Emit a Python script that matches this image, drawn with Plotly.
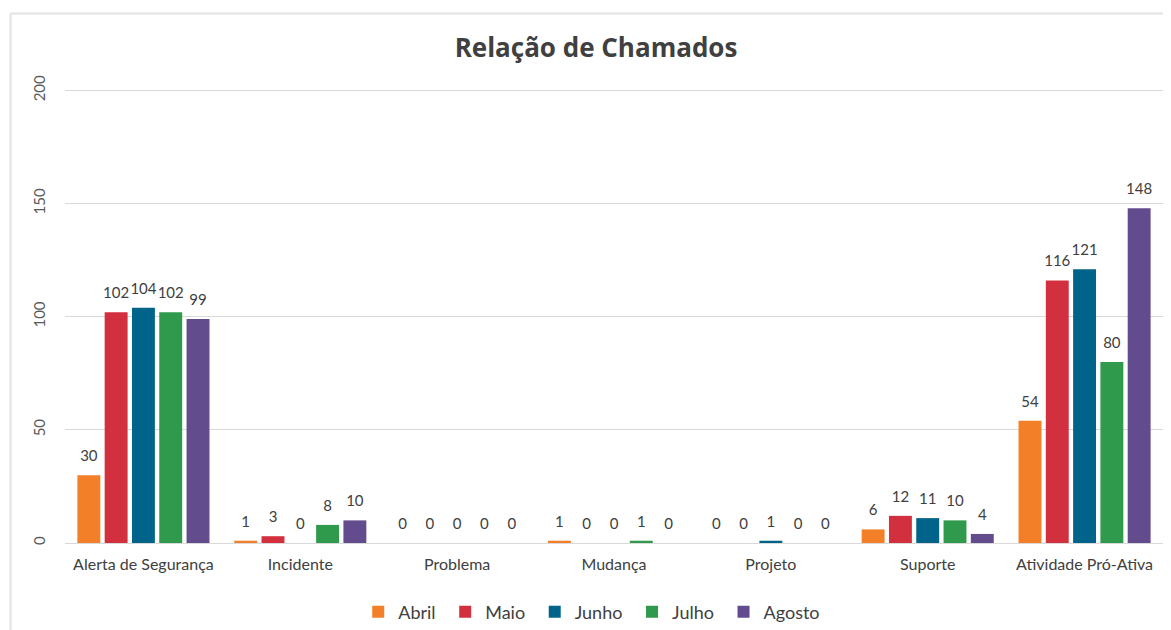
import plotly.graph_objects as go

categories = ["Alerta de Segurança", "Incidente", "Problema", "Mudança", "Projeto", "Suporte", "Atividade Pró-Ativa"]
months = ["Abril", "Maio", "Junho", "Julho", "Agosto"]
abril = [30, 1, 0, 1, 0, 6, 54]
maio = [102, 3, 0, 0, 0, 12, 116]
junho = [104, 0, 0, 0, 1, 11, 121]
julho = [102, 8, 0, 1, 0, 10, 80]
agosto = [99, 10, 0, 0, 0, 4, 148]
series = [abril, maio, junho, julho, agosto]
colors = ["#F37F28", "#D3303F", "#00648A", "#2F9A4C", "#634C8E"]

# figure is rendered with an 8px page margin, so lay out in figure pixels
W, H = 1163, 622
PL, PR = 56.5, 1155.5          # plot left / right (figure px)
PB = 535                         # y = 0
PX_PER_UNIT = 2.26
YMAX = 202
PT = PB - YMAX * PX_PER_UNIT     # plot top
plot_w, plot_h = PR - PL, PB - PT

fig = go.Figure()
for name, vals, col in zip(months, series, colors):
    fig.add_trace(go.Bar(
        x=categories, y=vals, name=name + "\u00a0", offsetgroup=name, alignmentgroup="a",
        marker=dict(color=col, line=dict(width=0)),
    ))
for name, vals, col in zip(months, series, colors):
    fig.add_trace(go.Scatter(
        x=categories, y=vals, name=name, offsetgroup=name, alignmentgroup="a",
        orientation="v", mode="markers+text", text=[str(v) for v in vals],
        textposition="top center", marker=dict(size=15, color="rgba(0,0,0,0)"),
        textfont=dict(size=15, color="#404040", family="Lato"),
        showlegend=False, cliponaxis=False, hoverinfo="skip",
    ))

fig.update_layout(
    width=W, height=H,
    paper_bgcolor="white", plot_bgcolor="white",
    font=dict(family="Lato", color="#404040"),
    title=dict(text="<b>Relação de Chamados</b>", x=588 / W, xanchor="center", y=1 - 40 / H, yanchor="middle",
               font=dict(size=26, color="#404040", family="Open Sans")),
    barmode="group", bargap=0.13, bargroupgap=0.16,
    scattermode="group", scattergap=0.13,
    margin=dict(l=PL, r=W - PR, t=PT, b=H - PB, autoexpand=False),
    showlegend=True,
    legend=dict(orientation="h", x=(350 - PL) / plot_w, xanchor="left", y=-(604 - PB) / plot_h, yanchor="middle",
                font=dict(size=18, color="#404040", family="Lato"), traceorder="normal",
                itemwidth=30),
    xaxis=dict(showline=True, linecolor="#D9D9D9", linewidth=1, ticks="", automargin=False,
               ticklabelstandoff=7,
               tickfont=dict(size=16, color="#404040", family="Lato")),
    yaxis=dict(range=[0, YMAX], tickvals=[0, 50, 100, 150, 200], showgrid=True, gridcolor="#D9D9D9", gridwidth=1,
               zeroline=False, showline=False, tickangle=-90, automargin=False,
               tickfont=dict(size=15, color="#595959", family="Lato"), ticklabelstandoff=16),
)
# outer chart frame (left and top edges)
bx = (2 - PL) / plot_w
by = 1 + (PT - 6) / plot_h
fig.add_shape(type="line", xref="paper", yref="paper", x0=bx, x1=bx, y0=by, y1=-0.3,
              line=dict(color="#E3E3E3", width=2), layer="below")
fig.add_shape(type="line", xref="paper", yref="paper", x0=bx, x1=1.05, y0=by, y1=by,
              line=dict(color="#E3E3E3", width=2), layer="below")

fig.write_html("out.html")
